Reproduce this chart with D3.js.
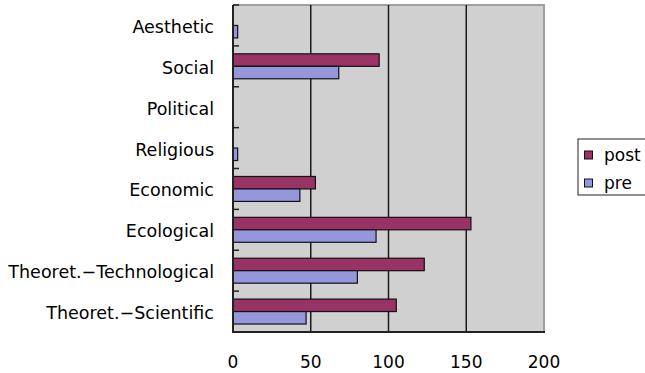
<!DOCTYPE html>
<html>
<head>
<meta charset="utf-8">
<script src="https://cdn.jsdelivr.net/npm/d3@7"></script>
<style>
  html, body { margin: 0; padding: 0; background: #fff; }
  svg { display: block; }
  text { font-family: "DejaVu Sans", sans-serif; fill: #000; }
</style>
</head>
<body>
<svg id="chart" width="645" height="373"></svg>
<script>
// Categories, top to bottom
const categories = [
  "Aesthetic", "Social", "Political", "Religious",
  "Economic", "Ecological", "Theoret.\u2212Technological", "Theoret.\u2212Scientific"
];
const seriesNames = ["post", "pre"];
const postValues = [0, 94, 0, 0, 53, 153, 123, 105];
const preValues  = [3, 68, 0, 3, 43, 92, 80, 47];
const xTicks = [0, 50, 100, 150, 200];
const colors = { post: "#993366", pre: "#9696dc" };

const svg = d3.select("#chart");
const plot = { left: 233, right: 544, top: 5, bottom: 332 };

const x = d3.scaleLinear().domain([0, 200]).range([plot.left, plot.right]);
const y = d3.scaleBand().domain(categories).range([plot.top, plot.bottom])
  .paddingInner(0.39).paddingOuter(0.195);
const ySub = d3.scaleBand().domain(seriesNames).range([0, y.bandwidth()]);
const step = y.step();

// plot background
svg.append("rect")
  .attr("x", plot.left).attr("y", plot.top)
  .attr("width", plot.right - plot.left).attr("height", plot.bottom - plot.top)
  .attr("fill", "#d0d0d0");

// top and right frame
svg.append("path")
  .attr("d", `M${plot.left},${plot.top}H${plot.right}V${plot.bottom}`)
  .attr("fill", "none").attr("stroke", "#a0a0a0").attr("stroke-width", 2);

// vertical gridlines
svg.append("g").selectAll("line")
  .data(xTicks.filter(d => d > 0 && d < 200))
  .join("line")
  .attr("x1", d => x(d)).attr("x2", d => x(d))
  .attr("y1", plot.top).attr("y2", plot.bottom)
  .attr("stroke", "#1a1a1a").attr("stroke-width", 1.5);

// bars
const rows = categories.map((c, i) => ({ cat: c, post: postValues[i], pre: preValues[i] }));
const groups = svg.append("g").selectAll("g")
  .data(rows).join("g")
  .attr("transform", d => `translate(0,${y(d.cat)})`);
groups.selectAll("rect")
  .data(d => seriesNames.map(s => ({ s, v: d[s] })).filter(e => e.v > 0))
  .join("rect")
  .attr("x", x(0))
  .attr("y", e => ySub(e.s))
  .attr("width", e => x(e.v) - x(0))
  .attr("height", ySub.bandwidth())
  .attr("fill", e => colors[e.s])
  .attr("stroke", "#111").attr("stroke-width", 1.2);

// left axis with inward ticks at band boundaries
const yAxis = svg.append("g");
yAxis.append("line")
  .attr("x1", plot.left).attr("x2", plot.left)
  .attr("y1", plot.top).attr("y2", plot.bottom)
  .attr("stroke", "#222").attr("stroke-width", 2);
yAxis.selectAll("line.tick")
  .data(d3.range(categories.length + 1))
  .join("line").attr("class", "tick")
  .attr("x1", plot.left).attr("x2", plot.left + 6)
  .attr("y1", i => plot.top + i * step).attr("y2", i => plot.top + i * step)
  .attr("stroke", "#222").attr("stroke-width", 1.5);
yAxis.selectAll("text")
  .data(categories).join("text")
  .attr("x", 214)
  .attr("y", d => y(d) + y.bandwidth() / 2 + 7.5)
  .attr("text-anchor", "end")
  .attr("font-size", 17.5)
  .text(d => d);

// bottom axis
svg.append("line")
  .attr("x1", plot.left - 1).attr("x2", plot.right + 1)
  .attr("y1", plot.bottom).attr("y2", plot.bottom)
  .attr("stroke", "#222").attr("stroke-width", 2);
svg.append("g").selectAll("text")
  .data(xTicks).join("text")
  .attr("x", d => x(d))
  .attr("y", 368)
  .attr("text-anchor", "middle")
  .attr("font-size", 17)
  .text(d => d);

// legend
const legend = svg.append("g");
legend.append("rect")
  .attr("x", 578).attr("y", 139).attr("width", 80).attr("height", 56)
  .attr("fill", "#fff").attr("stroke", "#222").attr("stroke-width", 1);
seriesNames.forEach((s, i) => {
  legend.append("rect")
    .attr("x", 584.5).attr("y", 151 + i * 28)
    .attr("width", 8).attr("height", 8)
    .attr("fill", colors[s]).attr("stroke", "#111").attr("stroke-width", 1);
  legend.append("text")
    .attr("x", 604).attr("y", 161 + i * 28)
    .attr("font-size", 17)
    .text(s);
});
</script>
</body>
</html>
